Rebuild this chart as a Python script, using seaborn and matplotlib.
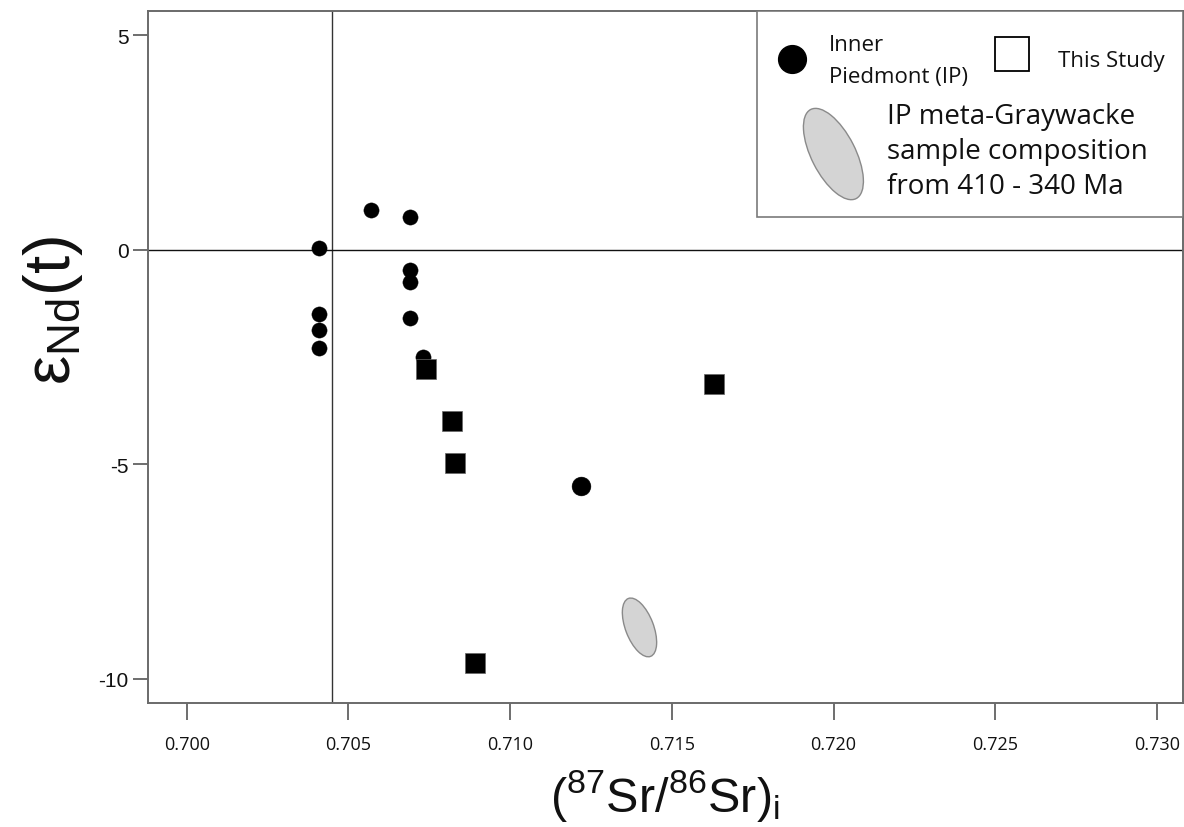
import matplotlib
matplotlib.use("Agg")
import matplotlib.pyplot as plt
import matplotlib.transforms as mtrans
from matplotlib.patches import Ellipse, Rectangle
import seaborn as sns
import pandas as pd

# ---- data ----
ip_sr = [0.7041, 0.7041, 0.7041, 0.7041, 0.7057, 0.7069, 0.7069, 0.7069, 0.7069, 0.7073]
ip_nd = [0.05, -1.49, -1.86, -2.28, 0.92, 0.75, -0.48, -0.75, -1.59, -2.50]
ip_large_sr = [0.7122]
ip_large_nd = [-5.51]
study_sr = [0.7074, 0.7082, 0.7083, 0.7089, 0.7163]
study_nd = [-2.77, -4.00, -4.97, -9.63, -3.14]
gw_center_sr = 0.7140
gw_center_nd = -8.80
bulk_earth_sr = 0.7045
chur_nd = 0.0
x_ticks = [0.700, 0.705, 0.710, 0.715, 0.720, 0.725, 0.730]
x_tick_labels = ["0.700", "0.705", "0.710", "0.715", "0.720", "0.725", "0.730"]
y_ticks = [5, 0, -5, -10]
y_tick_labels = ["5", "0", "-5", "-10"]
legend_ip = ["Inner", "Piedmont (IP)"]
legend_study = "This Study"
legend_gw = "IP meta-Graywacke\nsample composition\nfrom 410 - 340 Ma"

sns.set_theme(style="white")
plt.rcParams["font.family"] = ["Liberation Sans", "DejaVu Sans"]
plt.rcParams["mathtext.fontset"] = "custom"
plt.rcParams["mathtext.rm"] = "Liberation Sans"
plt.rcParams["mathtext.it"] = "Liberation Sans:italic"
plt.rcParams["mathtext.bf"] = "Liberation Sans:bold"

fig = plt.figure(figsize=(11.84, 8.28), dpi=100)
ax = fig.add_axes([0.125, 0.1498, 0.8742, 0.8357])

ax.axvline(bulk_earth_sr, color="#333333", lw=1.0, zorder=1)
ax.axhline(chur_nd, color="#111111", lw=1.0, zorder=1)

df_ip = pd.DataFrame({"sr": ip_sr, "nd": ip_nd})
df_ipl = pd.DataFrame({"sr": ip_large_sr, "nd": ip_large_nd})
df_st = pd.DataFrame({"sr": study_sr, "nd": study_nd})

sns.scatterplot(data=df_ip, x="sr", y="nd", ax=ax, marker="o", s=120,
                color="black", edgecolor="black", linewidth=0.3, zorder=3, legend=False)
sns.scatterplot(data=df_ipl, x="sr", y="nd", ax=ax, marker="o", s=185,
                color="black", edgecolor="black", linewidth=0.3, zorder=3, legend=False)
sns.scatterplot(data=df_st, x="sr", y="nd", ax=ax, marker="s", s=190,
                color="black", edgecolor="#666666", linewidth=0.5, zorder=4, legend=False)

# graywacke field (size given in inches, anchored at data position)
gw_tr = fig.dpi_scale_trans + mtrans.ScaledTranslation(gw_center_sr, gw_center_nd, ax.transData)
ax.add_patch(Ellipse((0, 0), 0.62, 0.28, angle=111, transform=gw_tr,
                     facecolor="#d4d4d4", edgecolor="#8a8a8a", lw=1.0, zorder=2))

ax.set_xlim(0.6988, 0.73081)
ax.set_ylim(-10.56, 5.56)
ax.set_xticks(x_ticks)
ax.set_xticklabels(x_tick_labels, fontfamily="Open Sans", fontsize=13, color="#111111")
ax.set_yticks(y_ticks)
ax.set_yticklabels(y_tick_labels, fontsize=15, color="#111111")
ax.tick_params(axis="x", bottom=True, direction="out", length=12, width=1.2,
               color="#555555", pad=11)
ax.tick_params(axis="y", left=True, direction="out", length=11, width=1.2,
               color="#555555", pad=3)

for sp in ax.spines.values():
    sp.set_color("#6a6a6a")
    sp.set_linewidth(1.4)

ax.set_xlabel(r"($^{87}$Sr/$^{86}$Sr)$_{\mathrm{i}}$", fontsize=35, va="top", color="#111111")
ax.xaxis.set_label_coords(0.5, -0.092)
ax.set_ylabel(r"ε$_{\mathrm{Nd}}$(t)", fontsize=47, color="#111111")
ax.yaxis.set_label_coords(-0.061, 0.569)

# ---- custom legend box ----
ax.add_patch(Rectangle((0.588, 0.702), 0.412, 0.298, transform=ax.transAxes,
                       facecolor="white", edgecolor="#7a7a7a", lw=1.2, zorder=5))
ax.plot([0.622], [0.931], transform=ax.transAxes, marker="o", markersize=20,
        color="black", zorder=6, clip_on=False)
ax.text(0.658, 0.951, legend_ip[0], transform=ax.transAxes, fontsize=16,
        family="Open Sans", va="center", ha="left", zorder=6, color="#111111")
ax.text(0.658, 0.906, legend_ip[1], transform=ax.transAxes, fontsize=16,
        family="Open Sans", va="center", ha="left", zorder=6, color="#111111")
ax.plot([0.835], [0.938], transform=ax.transAxes, marker="s", markersize=25,
        markerfacecolor="white", markeredgecolor="black", markeredgewidth=1.3,
        zorder=6, clip_on=False)
ax.text(0.879, 0.928, legend_study, transform=ax.transAxes, fontsize=16,
        family="Open Sans", va="center", ha="left", zorder=6, color="#111111")
leg_tr = fig.dpi_scale_trans + mtrans.ScaledTranslation(0.6622, 0.7933, ax.transAxes)
ax.add_patch(Ellipse((0, 0), 1.0, 0.44, angle=117, transform=leg_tr,
                     facecolor="#d4d4d4", edgecolor="#8a8a8a", lw=1.0, zorder=6))
ax.text(0.714, 0.798, legend_gw, transform=ax.transAxes, fontsize=20,
        family="Open Sans", va="center", ha="left", linespacing=1.32, zorder=6,
        color="#111111")

fig.savefig("out.png", dpi=100)
